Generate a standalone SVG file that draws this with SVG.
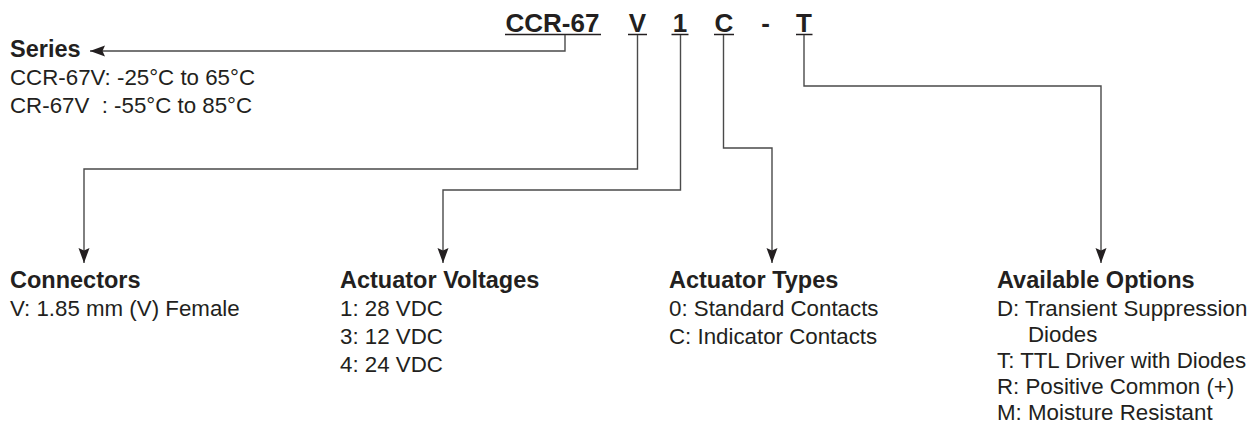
<svg xmlns="http://www.w3.org/2000/svg" width="1259" height="425" viewBox="0 0 1259 425">
<defs>
<style>
text{font-family:"Liberation Sans",Arial,Helvetica,sans-serif;fill:#231f20}
.h{font-weight:bold;font-size:23.5px}
.b{font-size:22.3px}
.pn{font-weight:bold;font-size:26px;text-anchor:middle}
.ul{stroke:#231f20;stroke-width:1.5}
.c{fill:none;stroke:#4a4a4a;stroke-width:1.4}
.pre{white-space:pre}
</style>
<marker id="ah" markerUnits="userSpaceOnUse" markerWidth="16" markerHeight="12" refX="15" refY="6" orient="auto"><path d="M0,0.5 L15,6 L0,11.5 L2.5,6 z" fill="#231f20"/></marker>
</defs>
<rect width="1259" height="425" fill="#ffffff"/>
<g id="part-number">
<text class="pn" x="552.5" y="32">CCR-67</text>
<text class="pn" x="637.5" y="32">V</text>
<text class="pn" x="680" y="32">1</text>
<text class="pn" x="724" y="32">C</text>
<text class="pn" x="765.5" y="32">-</text>
<text class="pn" x="804" y="32">T</text>
<line class="ul" x1="505" y1="34.5" x2="601" y2="34.5"/>
<line class="ul" x1="628" y1="34.5" x2="647" y2="34.5"/>
<line class="ul" x1="671.5" y1="34.5" x2="688.5" y2="34.5"/>
<line class="ul" x1="714" y1="34.5" x2="734" y2="34.5"/>
<line class="ul" x1="796" y1="34.5" x2="812.5" y2="34.5"/>
</g>
<g id="connectors">
<path class="c" d="M565,35 V51 H90" marker-end="url(#ah)"/>
<path class="c" d="M637.5,35 V169 H84 V263" marker-end="url(#ah)"/>
<path class="c" d="M680.5,35 V190 H443 V263" marker-end="url(#ah)"/>
<path class="c" d="M723.5,35 V148 H772 V263" marker-end="url(#ah)"/>
<path class="c" d="M804,35 V86 H1101 V263" marker-end="url(#ah)"/>
</g>
<g id="node-series">
<text class="h" x="10" y="57">Series</text>
<text class="b" x="10" y="85">CCR-67V: -25°C to 65°C</text>
<text class="b pre" x="10" y="113" xml:space="preserve">CR-67V  : -55°C to 85°C</text>
</g>
<g id="node-connectors">
<text class="h" x="10" y="288">Connectors</text>
<text class="b" x="10" y="316">V: 1.85 mm (V) Female</text>
</g>
<g id="node-voltages">
<text class="h" x="340" y="288">Actuator Voltages</text>
<text class="b" x="340" y="316">1: 28 VDC</text>
<text class="b" x="340" y="344">3: 12 VDC</text>
<text class="b" x="340" y="372">4: 24 VDC</text>
</g>
<g id="node-types">
<text class="h" x="669" y="288">Actuator Types</text>
<text class="b" x="669" y="316">0: Standard Contacts</text>
<text class="b" x="669" y="344">C: Indicator Contacts</text>
</g>
<g id="node-options">
<text class="h" x="997" y="288">Available Options</text>
<text class="b" x="997" y="316">D: Transient Suppression</text>
<text class="b" x="1028" y="342">Diodes</text>
<text class="b" x="997" y="368">T: TTL Driver with Diodes</text>
<text class="b" x="997" y="394">R: Positive Common (+)</text>
<text class="b" x="997" y="420">M: Moisture Resistant</text>
</g>
</svg>
